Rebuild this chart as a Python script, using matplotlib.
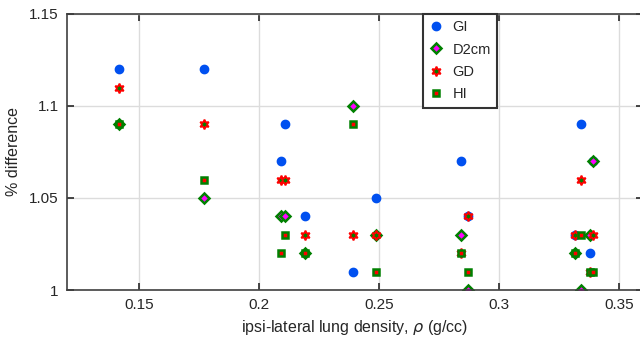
import matplotlib

matplotlib.use("Agg")
import matplotlib.pyplot as plt

plt.rcParams["font.family"] = ["Liberation Sans", "DejaVu Sans"]

# lung density per patient (g/cc)
density = [0.1417, 0.1771, 0.209, 0.211, 0.219, 0.239, 0.2488,
           0.284, 0.2872, 0.3318, 0.334, 0.338, 0.3392]

# % difference per index
gi = [1.12, 1.12, 1.07, 1.09, 1.04, 1.01, 1.05, 1.07, 1.04, 1.03, 1.09, 1.02, 1.07]
d2cm = [1.09, 1.05, 1.04, 1.04, 1.02, 1.10, 1.03, 1.03, 1.00, 1.02, 1.00, 1.03, 1.07]
gd = [1.11, 1.09, 1.06, 1.06, 1.03, 1.03, 1.03, 1.02, 1.04, 1.03, 1.06, 1.01, 1.03]
hi = [1.09, 1.06, 1.02, 1.03, 1.02, 1.09, 1.01, 1.02, 1.01, 1.02, 1.03, 1.01, 1.01]

x_ticks = [0.15, 0.2, 0.25, 0.3, 0.35]
y_ticks = [1.0, 1.05, 1.1, 1.15]
y_tick_labels = ["1", "1.05", "1.1", "1.15"]

green = "#008000"
star = (6, 1, 0)

fig = plt.figure(figsize=(6.4, 3.42), dpi=100)
ax = fig.add_axes([67 / 640, 52 / 342, 576 / 640, 276 / 342])

ax.plot(density, gi, linestyle="none", marker="o", markersize=6,
        color="#0050f0", markeredgecolor="#0050f0", label="GI")
ax.plot(density, d2cm, linestyle="none", marker="D", markersize=5,
        markerfacecolor="magenta", markeredgecolor=green, markeredgewidth=1.8,
        label="D2cm")
ax.plot(density, gd, linestyle="none", marker=star, markersize=7,
        markerfacecolor=green, markeredgecolor="red", markeredgewidth=1.3,
        label="GD")
ax.plot(density, hi, linestyle="none", marker="s", markersize=5,
        markerfacecolor="red", markeredgecolor=green, markeredgewidth=1.8,
        label="HI")

ax.set_xlim(0.12, 0.36)
ax.set_ylim(1.0, 1.15)
ax.set_xticks(x_ticks)
ax.set_xticklabels([f"{t:g}" for t in x_ticks])
ax.set_yticks(y_ticks)
ax.set_yticklabels(y_tick_labels)

ax.grid(True, color="#dcdcdc", linewidth=1)
ax.set_axisbelow(True)
ax.tick_params(direction="in", length=5, width=1.2, colors="#262626",
               labelsize=11, top=True, right=True, pad=6)
for s in ax.spines.values():
    s.set_color("#404040")
    s.set_linewidth(1.2)

ax.set_xlabel(r"ipsi-lateral lung density, $\rho$ (g/cc)", fontsize=11.5,
              color="#262626", labelpad=4)
ax.set_ylabel("% difference", fontsize=11.5, color="#262626", labelpad=6)

# legend box sits against the top spine, left of the 0.3 grid line
leg = ax.legend(loc="upper right", bbox_to_anchor=(430 / 576, 1.0),
                borderaxespad=0, fancybox=False, framealpha=1,
                edgecolor="#333333", fontsize=10.5, handletextpad=0.6,
                labelspacing=0.58, borderpad=0.42, handlelength=1.0)
leg.get_frame().set_linewidth(1.5)
for t in leg.get_texts():
    t.set_color("#262626")

fig.savefig("out.png", dpi=100)
